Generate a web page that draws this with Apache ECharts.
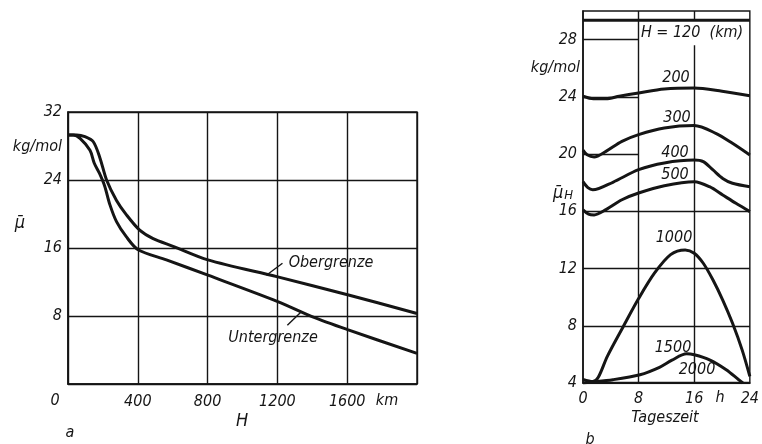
<!DOCTYPE html>
<html>
<head>
<meta charset="utf-8">
<script src="https://cdn.jsdelivr.net/npm/echarts@6/dist/echarts.min.js"></script>
<style>
  html, body { margin: 0; padding: 0; background: #fff; }
  #chart { width: 762px; height: 444px; }
</style>
</head>
<body>
<div id="chart"></div>
<script>
// --- a: mittlere Molmasse über der Höhe ---
const obenH  = [0, 50, 97, 145, 183, 221, 278, 335, 411, 488, 602, 802, 1202, 1602, 2000];
const obenMu = [29.3, 29.3, 29.1, 28.5, 26.6, 24.0, 21.6, 19.9, 18.1, 17.1, 16.2, 14.6, 12.6, 10.5, 8.3];
const untenH  = [0, 30, 69, 126, 150, 180, 210, 240, 278, 335, 402, 564, 802, 1202, 1402, 1602, 2000];
const untenMu = [29.3, 29.3, 28.9, 27.5, 26.0, 24.8, 23.3, 21.1, 19.1, 17.3, 15.8, 14.6, 12.8, 9.7, 7.9, 6.4, 3.6];
const hTicks = [0, 400, 800, 1200, 1600];

// --- b: Tagesgang für verschiedene Höhen ---
const t120 = [0, 24];                 const v120 = [29.35, 29.35];
const t200 = [0, 1.5, 3.3, 5.2, 8, 11.7, 16, 20, 24];
const v200 = [24.04, 23.87, 23.87, 24.04, 24.27, 24.55, 24.62, 24.39, 24.08];
const t300 = [0, 0.6, 1.6, 3.3, 5.6, 8, 11.7, 16, 19.1, 21.5, 24];
const v300 = [20.28, 19.95, 19.8, 20.19, 20.89, 21.36, 21.82, 21.99, 21.45, 20.75, 19.93];
const t400 = [0, 0.7, 1.4, 4.3, 8, 11.7, 16, 17.3, 18.7, 20.1, 21.5, 24];
const v400 = [18.07, 17.65, 17.5, 18.03, 18.91, 19.38, 19.58, 19.47, 18.89, 18.3, 17.96, 17.72];
const t500 = [0, 0.8, 1.6, 3.3, 5.6, 8, 11.7, 16, 18.2, 20.1, 22, 24];
const v500 = [16.1, 15.8, 15.75, 16.12, 16.81, 17.28, 17.79, 18.07, 17.72, 17.14, 16.56, 15.98];
const t1000 = [0, 1.4, 2.2, 3.5, 5.8, 8, 10.3, 12.6, 14.7, 16, 17.3, 18.7, 20.1, 21.5, 22.9, 24];
const v1000 = [4.25, 4.1, 4.4, 5.86, 7.95, 9.9, 11.69, 12.97, 13.3, 13.07, 12.37, 11.2, 9.8, 8.19, 6.3, 4.46];
const t1500 = [0, 1, 4.3, 8.2, 11, 12.8, 14.9, 16, 18.2, 20.6, 22.4, 23];
const v1500 = [4.0, 4.05, 4.23, 4.58, 5.1, 5.6, 6.04, 5.97, 5.62, 4.93, 4.23, 4.0];
const t2000 = [0, 24];                const v2000 = [4, 4];

const ink = '#151515';
const font = '"DejaVu Sans Condensed", "DejaVu Sans", "Liberation Sans", sans-serif';

function pairs(xs, ys) { return xs.map((x, i) => [x, ys[i]]); }

function curve(name, xs, ys, idx, extra) {
    return Object.assign({
        name: name,
        type: 'line',
        xAxisIndex: idx,
        yAxisIndex: idx,
        data: pairs(xs, ys),
        smooth: 0.3,
        symbol: 'none',
        silent: true,
        lineStyle: { color: ink, width: 3 }
    }, extra || {});
}

function seg(a, b) { return [{ coord: a }, { coord: b }]; }

const thin = { color: ink, width: 1.4, type: 'solid' };

// Gitterlinien in b sind im Original teilweise unterbrochen
const gridB = {
    silent: true,
    symbol: ['none', 'none'],
    label: { show: false },
    lineStyle: thin,
    emphasis: { disabled: true },
    data: [
        seg([0, 28], [8, 28]),
        seg([0, 24], [8, 24]),
        seg([0, 20], [8, 20]),
        seg([0, 16], [24, 16]),
        seg([0, 12], [24, 12]),
        seg([0, 8], [24, 8]),
        seg([8, 30], [8, 4]),
        seg([16, 30], [16, 29.35]),
        seg([16, 27.6], [16, 4])
    ]
};

const leaderA = (a, b) => ({
    silent: true,
    symbol: ['none', 'none'],
    label: { show: false },
    lineStyle: thin,
    emphasis: { disabled: true },
    data: [seg(a, b)]
});

const labelStyle = { fontFamily: font, fontStyle: 'italic', fontSize: 16, color: ink };

function txt(text, x, y, align, size) {
    return {
        type: 'text',
        x: x, y: y,
        silent: true,
        style: {
            text: text,
            font: 'italic ' + (size || 16) + 'px ' + font,
            fill: ink,
            align: align || 'center',
            verticalAlign: 'middle'
        }
    };
}

const chart = echarts.init(document.getElementById('chart'));

chart.setOption({
    backgroundColor: '#fff',
    animation: false,
    grid: [
        { left: 68, top: 112, width: 349, height: 272, show: true, borderColor: ink, borderWidth: 1.4 },
        { left: 583, top: 11, width: 172, height: 372, show: true, borderColor: ink, borderWidth: 1.4 }
    ],
    xAxis: [
        {
            gridIndex: 0, type: 'value', min: 0, max: 2000, interval: 400,
            axisLine: { lineStyle: { color: ink, width: 1.6 } },
            axisTick: { show: false },
            splitLine: { lineStyle: { color: ink, width: 1.4 } },
            axisLabel: Object.assign({
                margin: 10,
                formatter: v => (hTicks.indexOf(v) > 0 ? String(v) : '')
            }, labelStyle)
        },
        {
            gridIndex: 1, type: 'value', min: 0, max: 24, interval: 8,
            axisLine: { lineStyle: { color: ink, width: 1.6 } },
            axisTick: { show: false },
            splitLine: { show: false },
            axisLabel: Object.assign({ margin: 8 }, labelStyle)
        }
    ],
    yAxis: [
        {
            gridIndex: 0, type: 'value', min: 0, max: 32, interval: 8,
            axisLine: { show: true, lineStyle: { color: ink, width: 1.6 } },
            axisTick: { show: false },
            splitLine: { lineStyle: { color: ink, width: 1.4 } },
            axisLabel: Object.assign({
                margin: 6,
                formatter: v => (v === 0 ? '' : String(v))
            }, labelStyle)
        },
        {
            gridIndex: 1, type: 'value', min: 4, max: 30, interval: 4,
            axisLine: { show: true, lineStyle: { color: ink, width: 1.6 } },
            axisTick: { show: false },
            splitLine: { show: false },
            axisLabel: Object.assign({
                margin: 6,
                formatter: v => (v > 28 ? '' : String(v))
            }, labelStyle)
        }
    ],
    series: [
        curve('Obergrenze', obenH, obenMu, 0, { markLine: leaderA([1137, 12.8], [1229, 14.2]) }),
        curve('Untergrenze', untenH, untenMu, 0, { markLine: leaderA([1257, 6.9], [1337, 8.5]) }),
        curve('120', t120, v120, 1, { smooth: false, markLine: gridB }),
        curve('200', t200, v200, 1),
        curve('300', t300, v300, 1),
        curve('400', t400, v400, 1),
        curve('500', t500, v500, 1),
        curve('1000', t1000, v1000, 1),
        curve('1500', t1500, v1500, 1),
        curve('2000', t2000, v2000, 1, { smooth: false, lineStyle: { color: ink, width: 2.4 } })
    ],
    graphic: [
        // a
        txt('kg/mol', 62, 147, 'right'),
        txt('\u03bc\u0304', 20, 223, 'center', 18),
        txt('0', 55, 401),
        txt('km', 387, 401),
        txt('H', 242, 421, 'center', 18),
        txt('a', 70, 433),
        txt('Obergrenze', 331, 263),
        txt('Untergrenze', 273, 338),
        // b
        txt('kg/mol', 580, 68, 'right'),
        {
            type: 'text', x: 563, y: 193, silent: true,
            style: {
                text: '{m|\u03bc\u0304}{s|H}',
                align: 'center', verticalAlign: 'middle',
                rich: {
                    m: { font: 'italic 18px ' + font, fill: ink },
                    s: { font: 'italic 13px ' + font, fill: ink, padding: [6, 0, 0, 1] }
                }
            }
        },
        txt('h', 720, 398),
        txt('Tageszeit', 665, 418),
        txt('b', 590, 440),
        txt('H = 120  (km)', 692, 33),
        txt('200', 676, 78),
        txt('300', 677, 118),
        txt('400', 675, 153),
        txt('500', 675, 175),
        txt('1000', 674, 238),
        txt('1500', 673, 348),
        txt('2000', 697, 370)
    ]
});
</script>
</body>
</html>
